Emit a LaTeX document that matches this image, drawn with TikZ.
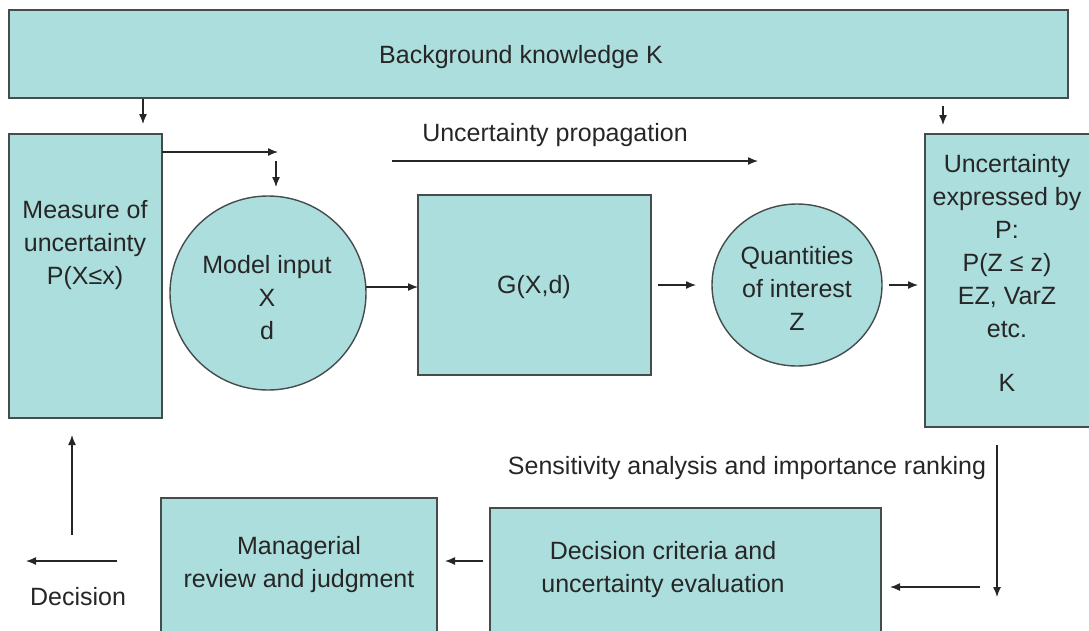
\documentclass[tikz,border=0pt]{standalone}
\usepackage{fontspec}
\setmainfont{Liberation Sans}
\usetikzlibrary{arrows.meta}
\definecolor{boxfill}{HTML}{ACDEDD}
\definecolor{boxline}{HTML}{454C4C}
\definecolor{txt}{HTML}{262626}
\tikzset{
  box/.style={draw=boxline, fill=boxfill, line width=1.4pt, inner sep=0pt},
  lbl/.style={text=txt, font=\fontsize{25}{33}\selectfont, align=center, inner sep=0pt},
  arr/.style={draw=txt, line width=1.3pt, -{Latex[length=10pt,width=8pt]}},
}
\begin{document}
\begin{tikzpicture}[x=1pt,y=-1pt]
\useasboundingbox (0,0) rectangle (1089,630);
\begin{scope}
\clip (0,0) rectangle (1089,630);
% boxes
\draw[box] (9,10) rectangle (1068,98);
\draw[box] (9,134) rectangle (162,418);
\draw[box] (418,195) rectangle (651,375);
\draw[box] (925,134) rectangle (1100,427);
\draw[box] (161,498) rectangle (437,640);
\draw[box] (490,508) rectangle (881,640);
\draw[box] (268,293) ellipse [x radius=98, y radius=97];
\draw[box] (797,285) ellipse [x radius=85, y radius=81];
\end{scope}
% texts
\node[lbl] (tbk) at (521,57) {Background knowledge K};
\node[lbl] (tmeas) at (85,245) {Measure of\\uncertainty\\P(X≤x)};
\node[lbl] (tmod) at (267,298) {Model input\\X\\d};
\node[lbl] (tg) at (534,287) {G(X,d)};
\node[lbl] (tq) at (797,288) {Quantities\\of interest\\Z};
\node[lbl] (tu) at (1007,246) {Uncertainty\\expressed by\\P:\\P(Z ≤ z)\\EZ, VarZ\\etc.};
\node[lbl] (tk) at (1007,383) {K};
\node[lbl] (tprop) at (555,135) {Uncertainty propagation};
\node[lbl] (tsens) at (747,468) {Sensitivity analysis and importance ranking};
\node[lbl] (tman) at (299,565) {Managerial\\review and judgment};
\node[lbl] (tdec) at (663,570) {Decision criteria and\\uncertainty evaluation};
\node[lbl] (tdecision) at (78,597) {Decision};
% connector coordinates
\coordinate (a1s) at (143,99);  \coordinate (a1e) at (143,124);
\coordinate (a2s) at (943,106); \coordinate (a2e) at (943,125);
\coordinate (a3s) at (162,152); \coordinate (a3e) at (278,152);
\coordinate (a4s) at (276,161); \coordinate (a4e) at (276,187);
\coordinate (a5s) at (366,287); \coordinate (a5e) at (418,287);
\coordinate (a6s) at (392,161); \coordinate (a6e) at (758,161);
\coordinate (a7s) at (658,285); \coordinate (a7e) at (696,285);
\coordinate (a8s) at (889,285); \coordinate (a8e) at (918,285);
\coordinate (a9s) at (997,445); \coordinate (a9e) at (997,597);
\coordinate (a10s) at (980,587); \coordinate (a10e) at (890,587);
\coordinate (a11s) at (483,561); \coordinate (a11e) at (445,561);
\coordinate (a12s) at (117,561); \coordinate (a12e) at (26,561);
\coordinate (a13s) at (72,535); \coordinate (a13e) at (72,435);
\foreach \i in {1,...,13} {\draw[arr] (a\i s) -- (a\i e);}
\end{tikzpicture}
\end{document}
